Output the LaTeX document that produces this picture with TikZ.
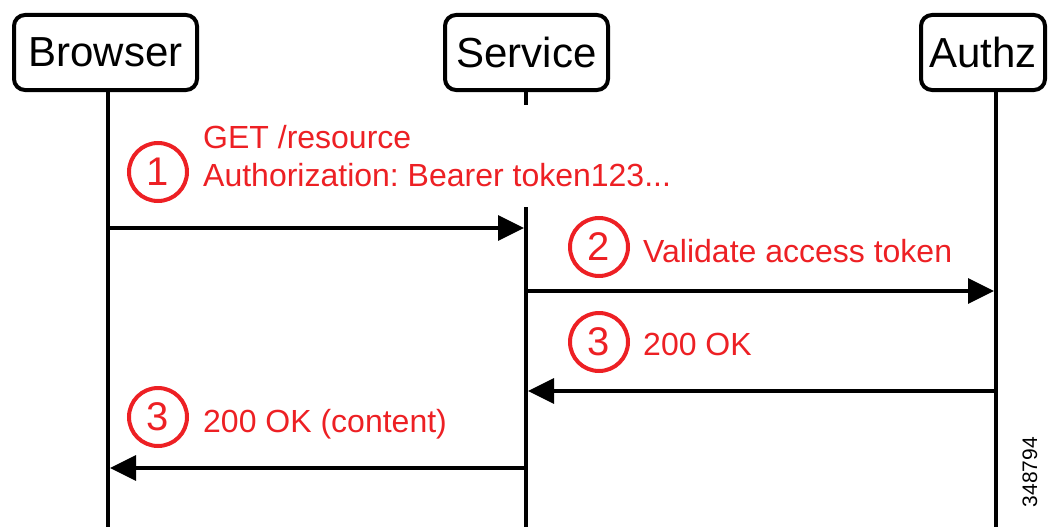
\documentclass[tikz,border=0pt]{standalone}
\usepackage{fontspec}
\setmainfont{Liberation Sans}
\usetikzlibrary{arrows.meta}
\definecolor{stepred}{RGB}{237,32,36}
\frenchspacing

\begin{document}
\begin{tikzpicture}[x=1pt,y=-1pt,
  actor/.style={draw,line width=4pt,rounded corners=11pt,inner sep=0pt,minimum height=75pt,font=\fontsize{42}{50}\selectfont},
  life/.style={line width=3.5pt},
  msg/.style={line width=3.5pt,-{Triangle[length=26pt,width=25pt]}},
  stepnum/.style={circle,draw=stepred,text=stepred,line width=4pt,minimum size=58pt,inner sep=0pt,font=\fontsize{40}{48}\selectfont},
  msgtext/.style={text=stepred,inner sep=0pt,font=\fontsize{32}{38}\selectfont}]
\useasboundingbox (0,0) rectangle (1049,527);
\node[actor,minimum width=183pt] (browser) at (105.5,52.5) {Browser};
\node[actor,minimum width=163pt] (service) at (526.5,52.5) {Service};
\node[actor,minimum width=124pt] (authz) at (983,52.5) {Authz};
\coordinate (lb) at (108,527);\coordinate (ls) at (526,527);\coordinate (la) at (996,527);
\draw[life] (browser.south -| lb)--(lb);
\draw[life] (service.south -| ls)--(ls);
\draw[life] (authz.south -| la)--(la);
\node[msgtext,fill=white,inner ysep=20pt,anchor=west,align=left] (m1text) at (203,156) {GET /resource\\Authorization: Bearer token123...};
\node[stepnum] (s1) at (158,172) {1};
\coordinate (m1a) at (108,228);\coordinate (m1b) at (524,228);
\draw[msg] (m1a)--(m1b);
\node[stepnum] (s2) at (599,247) {2};
\node[msgtext,anchor=base west] (m2text) at (643,262) {Validate access token};
\coordinate (m2a) at (526,291);\coordinate (m2b) at (994,291);
\draw[msg] (m2a)--(m2b);
\node[stepnum] (s3) at (599,342) {3};
\node[msgtext,anchor=base west] (m3text) at (643,355) {200 OK};
\coordinate (m3a) at (996,391);\coordinate (m3b) at (528,391);
\draw[msg] (m3a)--(m3b);
\node[stepnum] (s4) at (158,417) {3};
\node[msgtext,anchor=base west] (m4text) at (203,432) {200 OK (content)};
\coordinate (m4a) at (526,468);\coordinate (m4b) at (110,468);
\draw[msg] (m4a)--(m4b);
\node[rotate=90,inner sep=0pt,font=\fontsize{21}{25}\selectfont] (figid) at (1030,472) {348794};
\end{tikzpicture}
\end{document}
